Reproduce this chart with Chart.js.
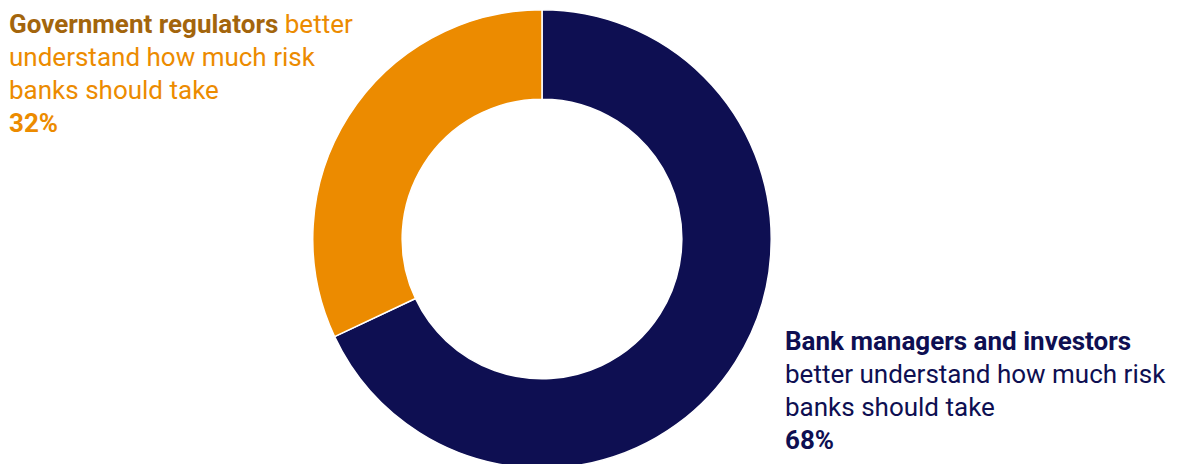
<!DOCTYPE html>
<html>
<head>
<meta charset="utf-8">
<script src="https://cdn.jsdelivr.net/npm/chart.js@4/dist/chart.umd.min.js"></script>
<style>
  html, body { margin: 0; padding: 0; background: #fff; }
  body { width: 1178px; height: 464px; overflow: hidden; position: relative; font-family: Roboto, "Noto Sans", sans-serif; }
  #wrap { position: absolute; left: 312px; top: 9px; width: 460px; height: 460px; }
  .note { position: absolute; font-size: 26px; line-height: 33px; white-space: nowrap; }
  .note b { font-weight: 700; }
  #gov { left: 9px; top: 8px; color: #ec8b00; }
  #gov .lead { color: #a3650c; }
  #bank { left: 785px; top: 325px; color: #0e0f52; }
</style>
</head>
<body>
<div id="gov" class="note"><b class="lead">Government regulators</b> better<br>understand how much risk<br>banks should take<br><b>32%</b></div>
<div id="bank" class="note"><b>Bank managers and investors</b><br>better understand how much risk<br>banks should take<br><b>68%</b></div>
<div id="wrap"><canvas id="donut"></canvas></div>
<script>
// who understands bank risk better, share of respondents
const groups = ['Bank managers and investors', 'Government regulators'];
const shares = [68, 32];
const sliceColors = ['#0e0f52', '#ec8b00'];

new Chart(document.getElementById('donut'), {
    type: 'doughnut',
    data: {
        labels: groups,
        datasets: [{
            data: shares,
            backgroundColor: sliceColors,
            borderColor: '#ffffff',
            borderWidth: 1.5,
            hoverOffset: 0
        }]
    },
    options: {
        responsive: true,
        maintainAspectRatio: false,
        animation: false,
        cutout: '61%',
        rotation: 0,
        plugins: {
            legend: { display: false },
            tooltip: { enabled: false }
        }
    }
});
</script>
</body>
</html>
